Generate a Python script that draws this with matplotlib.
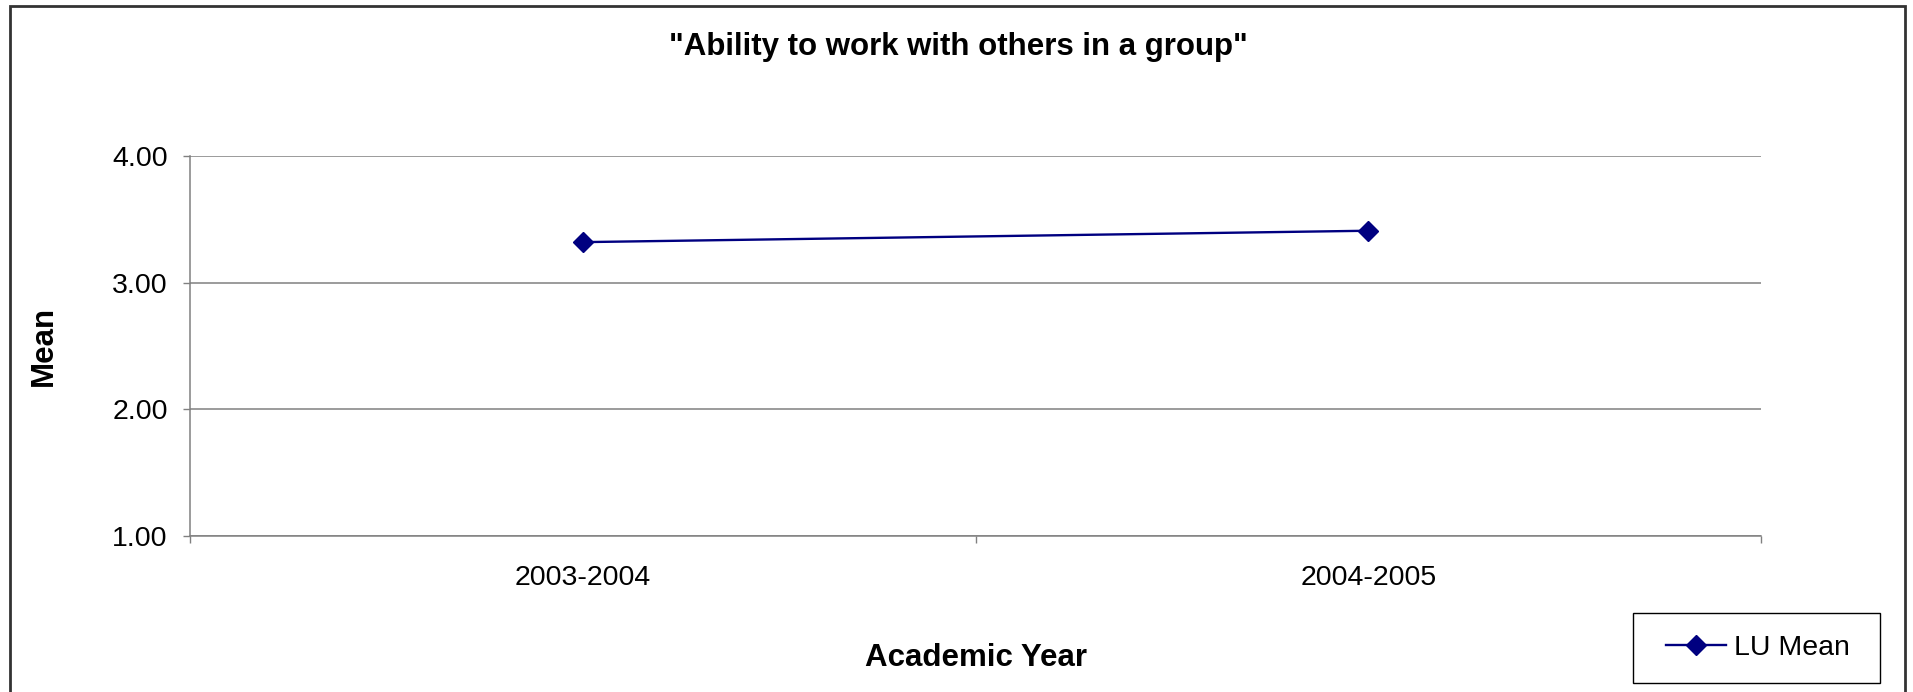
import matplotlib
matplotlib.use('Agg')
from matplotlib import pyplot as plt
from matplotlib.patches import Rectangle

# chart data
years = ['2003-2004', '2004-2005']
lu_mean = [3.32, 3.41]
y_ticks = [1.0, 2.0, 3.0, 4.0]

plt.rcParams['font.family'] = ['Liberation Sans', 'DejaVu Sans']

W, H = 1913, 692
fig = plt.figure(figsize=(W / 100, H / 100), dpi=100)
ax = fig.add_axes([190 / W, 1 - 536 / H, (1761 - 190) / W, (536 - 156) / H])

x = list(range(len(years)))
ax.plot(x, lu_mean, color='#000080', linewidth=1.7, marker='D', markersize=10,
        label='LU Mean')

# y axis
ax.set_ylim(1.0, 4.0)
ax.set_yticks(y_ticks)
ax.set_yticklabels(['%.2f' % v for v in y_ticks])
ax.yaxis.grid(True, color='#808080', linewidth=1.1)
ax.set_axisbelow(True)

# x axis: ticks on category boundaries, labels at centers
ax.set_xlim(-0.5, len(years) - 0.5)
ax.set_xticks([i - 0.5 for i in range(len(years) + 1)])
ax.set_xticklabels([])
ax.set_xticks(x, minor=True)
ax.set_xticklabels(years, minor=True)
ax.tick_params(axis='x', which='minor', length=0, pad=21, labelsize=20.5)
ax.tick_params(axis='both', which='major', length=5, width=1, color='#808080',
               labelsize=20.5, pad=11)

for side in ['top', 'right']:
    ax.spines[side].set_visible(False)
for side in ['left', 'bottom']:
    ax.spines[side].set_color('#808080')
    ax.spines[side].set_linewidth(1.1)

fig.text(958 / W, 1 - 47 / H, '"Ability to work with others in a group"',
         fontsize=22.5, fontweight='bold', ha='center', va='center')
fig.text(976 / W, 1 - 658 / H, 'Academic Year', fontsize=22.5,
         fontweight='bold', ha='center', va='center')
fig.text(44 / W, 1 - 346 / H, 'Mean', fontsize=22.5, fontweight='bold',
         rotation=90, ha='center', va='center')

# legend with a box drawn separately (wider padding than matplotlib's)
leg = fig.legend(loc='center', bbox_to_anchor=(1758 / W, 1 - 648 / H),
                 fontsize=20.5, frameon=False, handlelength=2.1,
                 borderpad=0.0, handletextpad=0.3)
fig.patches.append(Rectangle((1633 / W, 1 - 683 / H), (1880 - 1633) / W, 70 / H,
                             transform=fig.transFigure, fill=False,
                             edgecolor='black', linewidth=1.0))

# outer chart border (bottom edge falls outside the image)
fig.patches.append(Rectangle((10 / W, -0.1), (1905 - 10) / W, 1.1 - 6 / H,
                             transform=fig.transFigure, fill=False,
                             edgecolor='#333333', linewidth=2))

plt.savefig('out.png', dpi=100)
